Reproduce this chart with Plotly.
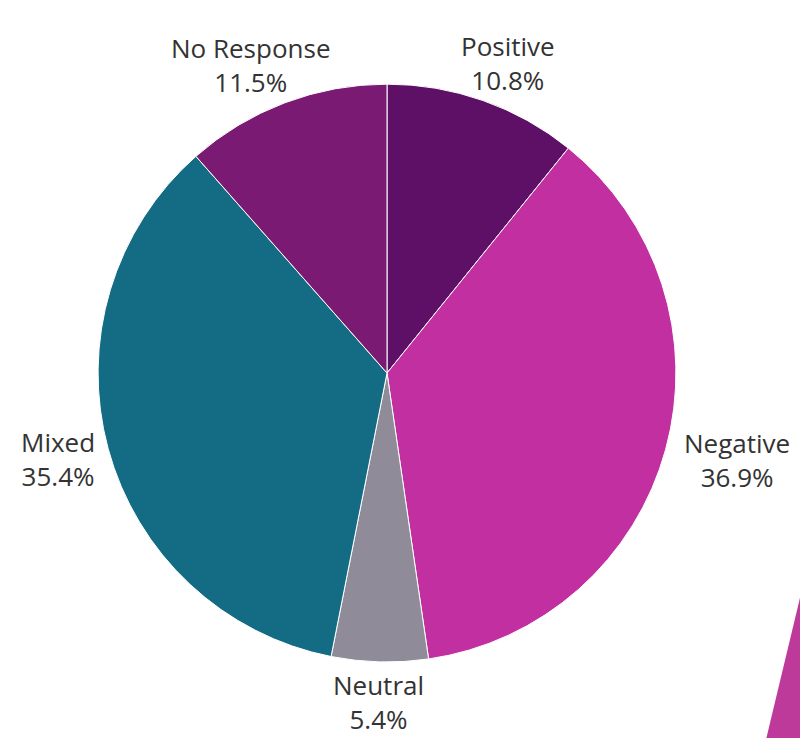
import math
import plotly.graph_objects as go

labels = ["Positive", "Negative", "Neutral", "Mixed", "No Response"]
values = [10.8, 36.9, 5.4, 35.4, 11.5]
colors = ["#5E1066", "#C12FA0", "#908B98", "#136C83", "#7A1A73"]

W, H = 800, 738
dom_x = [0.1225, 0.845]
dom_y = [0.103, 0.886]
FONT_SIZE = 26

fig = go.Figure(go.Pie(
    labels=labels,
    values=values,
    sort=False,
    direction="clockwise",
    rotation=0,
    marker=dict(colors=colors, line=dict(color="white", width=1)),
    textinfo="none",
    hoverinfo="label+value",
    domain=dict(x=dom_x, y=dom_y),
    automargin=False,
    showlegend=False,
))

# label placement derived from the pie geometry and slice mid-angles
cx = (dom_x[0] + dom_x[1]) / 2 * W
cy = (1 - (dom_y[0] + dom_y[1]) / 2) * H
radius = min((dom_x[1] - dom_x[0]) * W, (dom_y[1] - dom_y[0]) * H) / 2
anchor_r = radius + 14
total = sum(values)
annotations = []
cum = 0.0
for lab, val in zip(labels, values):
    mid = (cum + val / 2) / total * 2 * math.pi
    cum += val
    s, c = math.sin(mid), math.cos(mid)
    ax = cx + anchor_r * s
    ay = cy - anchor_r * c
    text = f"{lab}<br>{val:.1f}%"
    w = max(len(lab), len(f"{val:.1f}%")) * 0.58 * FONT_SIZE
    h = 2.0 * FONT_SIZE
    px = ax + s * w / 2
    py = ay - c * h / 2
    annotations.append(dict(
        x=px / W, y=1 - py / H, xref="paper", yref="paper",
        text=text, showarrow=False, xanchor="center", yanchor="middle",
        align="center", borderpad=0,
        font=dict(family="Open Sans", size=FONT_SIZE, color="#333333"),
    ))

fig.update_layout(
    width=W, height=H,
    margin=dict(l=0, r=0, t=0, b=0),
    paper_bgcolor="white",
    plot_bgcolor="white",
    annotations=annotations,
    shapes=[dict(
        type="path", xref="paper", yref="paper",
        path="M 1.0 0.19 L 0.958 0 L 1.0 0 Z",
        fillcolor="#BE3A9A", line=dict(width=0), layer="above",
    )],
)

fig.write_html("out.html")
